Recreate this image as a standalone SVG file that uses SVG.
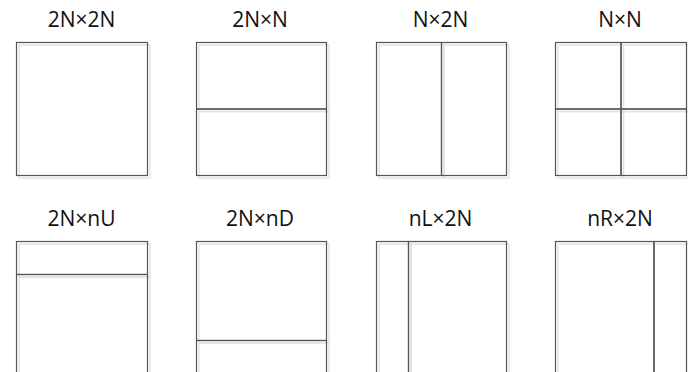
<svg xmlns="http://www.w3.org/2000/svg" width="688" height="372" viewBox="0 0 688 372">
<style>
.sh{fill:none;stroke:#e3e3e3;stroke-width:1.5}
.bx{fill:none;stroke:#555;stroke-width:1.2}
.lb{font-family:"Open Sans","Noto Sans",sans-serif;font-size:21px;fill:#111;text-anchor:middle}
</style>
<rect width="688" height="372" fill="#fff"/>
<g id="n-2Nx2N">
<text class="lb" x="81.5" y="26.5">2N×2N</text>
<rect class="sh" x="19" y="45" width="131" height="133"/>
<rect class="bx" x="16.5" y="42.5" width="131" height="133"/>
</g>
<g id="n-2NxN">
<text class="lb" x="260" y="26.5">2N×N</text>
<rect class="sh" x="199" y="45" width="130" height="66.5"/>
<rect class="sh" x="199" y="111.5" width="130" height="66.5"/>
<rect class="bx" x="196.5" y="42.5" width="130" height="66.5"/>
<rect class="bx" x="196.5" y="109" width="130" height="66.5"/>
</g>
<g id="n-Nx2N">
<text class="lb" x="440.5" y="26.5">N×2N</text>
<rect class="sh" x="379" y="45" width="65" height="133"/>
<rect class="sh" x="444" y="45" width="65" height="133"/>
<rect class="bx" x="376.5" y="42.5" width="65" height="133"/>
<rect class="bx" x="441.5" y="42.5" width="65" height="133"/>
</g>
<g id="n-NxN">
<text class="lb" x="620" y="26.5">N×N</text>
<rect class="sh" x="558" y="45" width="65.5" height="66.5"/>
<rect class="sh" x="623.5" y="45" width="65.5" height="66.5"/>
<rect class="sh" x="558" y="111.5" width="65.5" height="66.5"/>
<rect class="sh" x="623.5" y="111.5" width="65.5" height="66.5"/>
<rect class="bx" x="555.5" y="42.5" width="65.5" height="66.5"/>
<rect class="bx" x="621" y="42.5" width="65.5" height="66.5"/>
<rect class="bx" x="555.5" y="109" width="65.5" height="66.5"/>
<rect class="bx" x="621" y="109" width="65.5" height="66.5"/>
</g>
<g id="n-2NxnU">
<text class="lb" x="81.5" y="225.5">2N×nU</text>
<rect class="sh" x="19" y="244" width="131" height="33"/>
<rect class="sh" x="19" y="277" width="131" height="100"/>
<rect class="bx" x="16.5" y="241.5" width="131" height="33"/>
<rect class="bx" x="16.5" y="274.5" width="131" height="100"/>
</g>
<g id="n-2NxnD">
<text class="lb" x="260" y="225.5">2N×nD</text>
<rect class="sh" x="199" y="244" width="130" height="99"/>
<rect class="sh" x="199" y="343" width="130" height="34"/>
<rect class="bx" x="196.5" y="241.5" width="130" height="99"/>
<rect class="bx" x="196.5" y="340.5" width="130" height="34"/>
</g>
<g id="n-nLx2N">
<text class="lb" x="440.5" y="225.5">nL×2N</text>
<rect class="sh" x="379" y="244" width="32" height="133"/>
<rect class="sh" x="411" y="244" width="98" height="133"/>
<rect class="bx" x="376.5" y="241.5" width="32" height="133"/>
<rect class="bx" x="408.5" y="241.5" width="98" height="133"/>
</g>
<g id="n-nRx2N">
<text class="lb" x="620" y="225.5">nR×2N</text>
<rect class="sh" x="558" y="244" width="96" height="133"/>
<rect class="sh" x="654" y="244" width="35" height="133"/>
<rect class="bx" x="555.5" y="241.5" width="98.5" height="133"/>
<rect class="bx" x="654" y="241.5" width="32.5" height="133"/>
</g>
<g id="connectors"/>
</svg>
